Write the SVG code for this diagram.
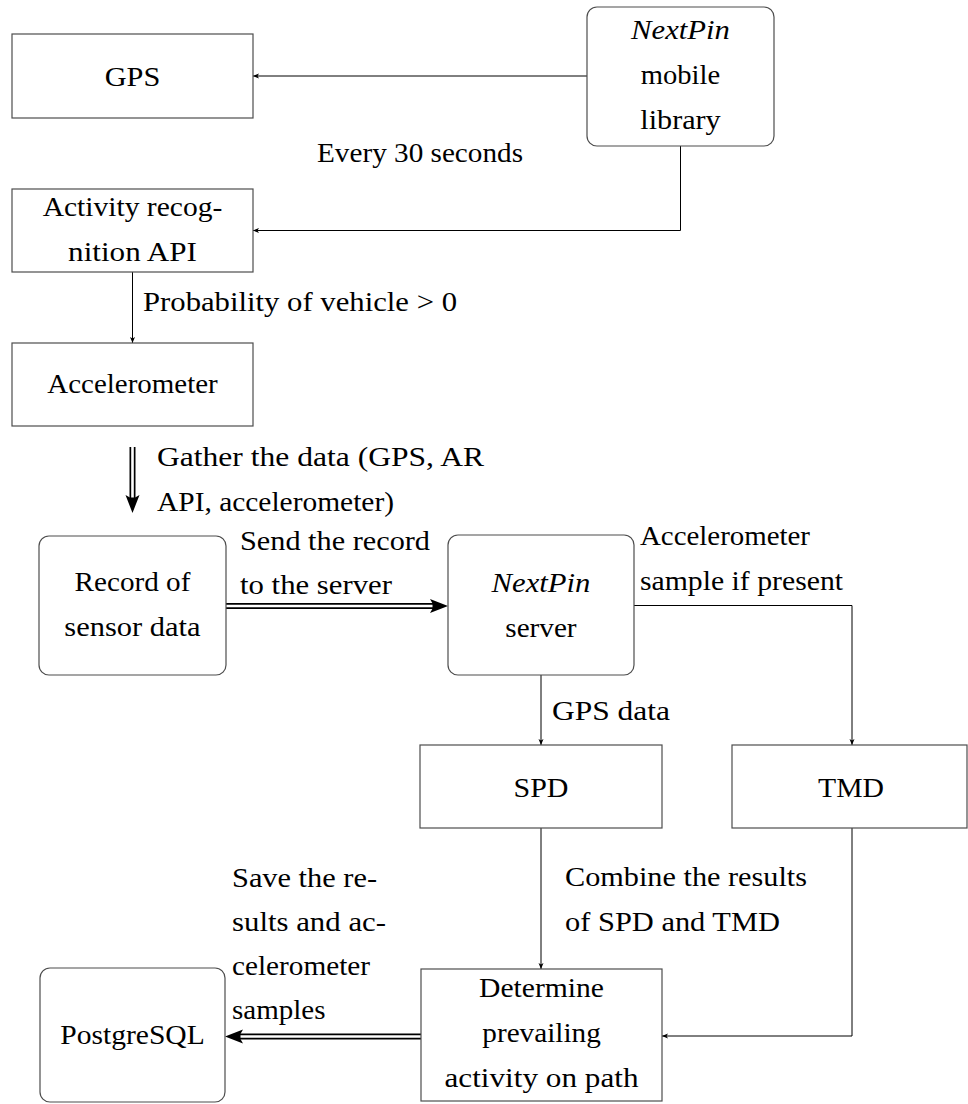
<svg xmlns="http://www.w3.org/2000/svg" width="968" height="1104" viewBox="0 0 968 1104">
  <style>
    .t { font-family: 'Liberation Serif', 'Times New Roman', serif; font-size: 27.5px; fill: #000; }
    .it { font-style: italic; }
    .box { fill: #fff; stroke: #4d4d4d; stroke-width: 1.2; }
    .edge { fill: none; stroke: #000; stroke-width: 1; }
    .dbl-o { fill: none; stroke: #000; stroke-width: 6; }
    .dbl-i { fill: none; stroke: #fff; stroke-width: 2.6; }
  </style>
  <defs>
    <marker id="arr" viewBox="-7 -3 8 6" refX="0" refY="0" markerWidth="8" markerHeight="6" markerUnits="userSpaceOnUse" orient="auto">
      <path d="M0,0 L-6,-2.5 L-4.5,0 L-6,2.5 Z" fill="#000"/>
    </marker>
    <marker id="big" viewBox="-7 -8 20 16" refX="0" refY="0" markerWidth="20" markerHeight="16" markerUnits="userSpaceOnUse" orient="auto">
      <path d="M12,0 L-6,-7 L-2,0 L-6,7 Z" fill="#000"/>
    </marker>
  </defs>

  <!-- connectors -->
  <g id="connectors">
    <path class="edge" d="M587,76 H253" marker-end="url(#arr)"/>
    <path class="edge" d="M680.5,146 V230.5 H253" marker-end="url(#arr)"/>
    <path class="edge" d="M132.5,272 V343" marker-end="url(#arr)"/>
    <path class="edge" d="M634,605.5 H852 V745" marker-end="url(#arr)"/>
    <path class="edge" d="M541,675 V745" marker-end="url(#arr)"/>
    <path class="edge" d="M541,828 V969" marker-end="url(#arr)"/>
    <path class="edge" d="M852,828 V1036 H662" marker-end="url(#arr)"/>

    <!-- double-line arrows -->
    <path class="dbl-o" d="M132.5,447 V501" marker-end="url(#big)"/>
    <path class="dbl-i" d="M132.5,447 V497.5"/>
    <path class="dbl-o" d="M226,606 H436" marker-end="url(#big)"/>
    <path class="dbl-i" d="M226,606 H432.5"/>
    <path class="dbl-o" d="M421,1036.5 H237" marker-end="url(#big)"/>
    <path class="dbl-i" d="M421,1036.5 H240.5"/>

    <!-- edge labels -->
    <text class="t" x="317" y="162" textLength="206" lengthAdjust="spacingAndGlyphs">Every 30 seconds</text>
    <text class="t" x="143" y="311" textLength="314" lengthAdjust="spacingAndGlyphs">Probability of vehicle &gt; 0</text>
    <text class="t" x="157" y="466" textLength="327" lengthAdjust="spacingAndGlyphs">Gather the data (GPS, AR</text>
    <text class="t" x="157" y="511" textLength="237" lengthAdjust="spacingAndGlyphs">API, accelerometer)</text>
    <text class="t" x="240" y="550" textLength="190" lengthAdjust="spacingAndGlyphs">Send the record</text>
    <text class="t" x="240" y="594" textLength="152" lengthAdjust="spacingAndGlyphs">to the server</text>
    <text class="t" x="640" y="545" textLength="170" lengthAdjust="spacingAndGlyphs">Accelerometer</text>
    <text class="t" x="640" y="590" textLength="203" lengthAdjust="spacingAndGlyphs">sample if present</text>
    <text class="t" x="552" y="720" textLength="118" lengthAdjust="spacingAndGlyphs">GPS data</text>
    <text class="t" x="565" y="886" textLength="242" lengthAdjust="spacingAndGlyphs">Combine the results</text>
    <text class="t" x="565" y="931" textLength="215" lengthAdjust="spacingAndGlyphs">of SPD and TMD</text>
    <text class="t" x="232" y="887" textLength="145" lengthAdjust="spacingAndGlyphs">Save the re-</text>
    <text class="t" x="232" y="931" textLength="154" lengthAdjust="spacingAndGlyphs">sults and ac-</text>
    <text class="t" x="232" y="975" textLength="138" lengthAdjust="spacingAndGlyphs">celerometer</text>
    <text class="t" x="232" y="1019" textLength="93.5" lengthAdjust="spacingAndGlyphs">samples</text>
  </g>

  <g id="gps">
    <rect class="box" x="12" y="34" width="241" height="84"/>
    <text class="t" x="104.7" y="86" textLength="55.6" lengthAdjust="spacingAndGlyphs">GPS</text>
  </g>

  <g id="mobile-library">
    <rect class="box" x="587" y="7" width="187" height="139" rx="10" ry="10"/>
    <text class="t it" x="631.1" y="39" textLength="98.8" lengthAdjust="spacingAndGlyphs">NextPin</text>
    <text class="t" x="640.8" y="84" textLength="79.4" lengthAdjust="spacingAndGlyphs">mobile</text>
    <text class="t" x="640.3" y="129" textLength="80.4" lengthAdjust="spacingAndGlyphs">library</text>
  </g>

  <g id="activity-api">
    <rect class="box" x="12" y="189" width="241" height="83"/>
    <text class="t" x="42.7" y="216" textLength="179.6" lengthAdjust="spacingAndGlyphs">Activity recog-</text>
    <text class="t" x="68.1" y="261" textLength="128.8" lengthAdjust="spacingAndGlyphs">nition API</text>
  </g>

  <g id="accelerometer">
    <rect class="box" x="12" y="343" width="241" height="83"/>
    <text class="t" x="47.3" y="393" textLength="170.4" lengthAdjust="spacingAndGlyphs">Accelerometer</text>
  </g>

  <g id="record">
    <rect class="box" x="39" y="536" width="187" height="139" rx="10" ry="10"/>
    <text class="t" x="74.6" y="591" textLength="115.8" lengthAdjust="spacingAndGlyphs">Record of</text>
    <text class="t" x="64.3" y="636" textLength="136.3" lengthAdjust="spacingAndGlyphs">sensor data</text>
  </g>

  <g id="server">
    <rect class="box" x="448" y="535" width="186" height="140" rx="10" ry="10"/>
    <text class="t it" x="491.6" y="592" textLength="98.8" lengthAdjust="spacingAndGlyphs">NextPin</text>
    <text class="t" x="505.3" y="637" textLength="71.3" lengthAdjust="spacingAndGlyphs">server</text>
  </g>

  <g id="spd">
    <rect class="box" x="420" y="745" width="242" height="83"/>
    <text class="t" x="513.5" y="797" textLength="55" lengthAdjust="spacingAndGlyphs">SPD</text>
  </g>

  <g id="tmd">
    <rect class="box" x="732" y="745" width="235" height="83"/>
    <text class="t" x="818" y="797" textLength="66" lengthAdjust="spacingAndGlyphs">TMD</text>
  </g>

  <g id="determine">
    <rect class="box" x="421" y="969" width="241" height="132"/>
    <text class="t" x="479" y="997" textLength="125" lengthAdjust="spacingAndGlyphs">Determine</text>
    <text class="t" x="482.3" y="1042" textLength="118.5" lengthAdjust="spacingAndGlyphs">prevailing</text>
    <text class="t" x="444.5" y="1087" textLength="194" lengthAdjust="spacingAndGlyphs">activity on path</text>
  </g>

  <g id="postgresql">
    <rect class="box" x="40" y="968" width="185" height="134" rx="10" ry="10"/>
    <text class="t" x="60.2" y="1044" textLength="144.6" lengthAdjust="spacingAndGlyphs">PostgreSQL</text>
  </g>
</svg>
